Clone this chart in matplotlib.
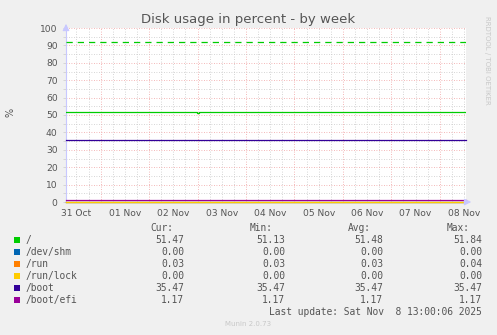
import matplotlib
matplotlib.use("Agg")
import matplotlib.pyplot as plt
import matplotlib.dates as mdates
import numpy as np
from datetime import datetime, timedelta

# data
t_start = datetime(2025, 10, 31, 6, 50)
t_end = datetime(2025, 11, 8, 13, 0)

root_times = ["2025-10-31 06:50", "2025-11-01 05:00", "2025-11-01 05:40", "2025-11-01 06:10",
              "2025-11-01 11:00", "2025-11-02 14:50", "2025-11-02 17:50", "2025-11-02 23:30",
              "2025-11-03 00:30", "2025-11-03 21:45", "2025-11-04 03:00", "2025-11-05 00:00",
              "2025-11-05 05:30", "2025-11-05 06:10", "2025-11-05 08:00", "2025-11-06 10:00",
              "2025-11-06 13:20", "2025-11-07 14:50", "2025-11-07 17:20", "2025-11-08 13:00"]
root_vals = [51.47, 51.84, 51.60, 51.84, 51.47, 51.84, 51.47, 51.13, 51.47, 51.84,
             51.47, 51.84, 51.70, 51.84, 51.47, 51.84, 51.47, 51.84, 51.47, 51.47]
root_warning = 92

names = ["/", "/dev/shm", "/run", "/run/lock", "/boot", "/boot/efi"]
colors = ["#00CC00", "#0066B3", "#FF8000", "#FFCC00", "#330099", "#990099"]
const_vals = {"/dev/shm": 0.00, "/run": 0.03, "/run/lock": 0.00, "/boot": 35.47, "/boot/efi": 1.17}
cur = ["51.47", "0.00", "0.03", "0.00", "35.47", "1.17"]
mins = ["51.13", "0.00", "0.03", "0.00", "35.47", "1.17"]
avgs = ["51.48", "0.00", "0.03", "0.00", "35.47", "1.17"]
maxs = ["51.84", "0.00", "0.04", "0.00", "35.47", "1.17"]

W, H = 497, 335
bg = "#F0F0F0"
txt = "#555555"

fig = plt.figure(figsize=(W / 100, H / 100), dpi=100, facecolor=bg)
ax = fig.add_axes([66 / W, 1 - 202 / H, 400 / W, 174 / H])
ax.set_facecolor("white")

# grid
ax.set_xlim(t_start, t_end)
ax.set_ylim(0, 100)
ax.xaxis.set_major_locator(mdates.DayLocator())
ax.xaxis.set_minor_locator(mdates.HourLocator(byhour=[6, 12, 18]))
ax.set_yticks(np.arange(0, 101, 10))
ax.set_yticks(np.arange(5, 100, 10), minor=True)
ax.grid(which="minor", color="#C8C8C8", linestyle=(0, (1, 2)), linewidth=0.6)
ax.grid(which="major", color="#F0A0A0", linestyle=(0, (1, 2)), linewidth=0.6)
ax.set_axisbelow(True)
ax.xaxis.set_major_formatter(plt.NullFormatter())

# day labels at noon
days = [datetime(2025, 10, 31) + timedelta(days=i) for i in range(9)]
for d in days:
    noon = d + timedelta(hours=12)
    ax.text(noon, -4, d.strftime("%d %b"), ha="center", va="top", fontsize=6.6, color=txt, clip_on=False)

ax.tick_params(axis="y", which="both", labelsize=6.6, labelcolor=txt, length=2,
               color="#D0D0D0", width=0.6, pad=4)
ax.tick_params(axis="x", which="both", length=0)
for s in ["top", "right"]:
    ax.spines[s].set_visible(False)
for s in ["left", "bottom"]:
    ax.spines[s].set_color("#C8C8FF")

# series
rt = [datetime.strptime(s, "%Y-%m-%d %H:%M") for s in root_times]
ax.step(rt, root_vals, where="post", color=colors[0], linewidth=0.9, zorder=3)
ax.plot([t_start, t_end], [root_warning, root_warning], color=colors[0],
        linewidth=0.9, linestyle=(0, (5, 4)), zorder=3)
for n, c in zip(names[1:], colors[1:]):
    v = const_vals[n]
    ax.plot([t_start, t_end], [v, v], color=c, linewidth=0.9, zorder=3, clip_on=False)

# axis arrows
ax.annotate("", xy=(0, 1.04), xytext=(0, 0.97), xycoords="axes fraction",
            arrowprops=dict(arrowstyle="-|>", color="#C8C8FF", lw=0.8), annotation_clip=False)
ax.annotate("", xy=(1.02, 0), xytext=(0.99, 0), xycoords="axes fraction",
            arrowprops=dict(arrowstyle="-|>", color="#C8C8FF", lw=0.8), annotation_clip=False)

def px(x, y):
    return x / W, 1 - y / H

fig.text(*px(248, 20), "Disk usage in percent - by week", ha="center", va="center",
         fontsize=9.5, color=txt)
fig.text(*px(11, 112), "%", ha="center", va="center", rotation=90, fontsize=7, color=txt)
fig.text(*px(487, 60), "RRDTOOL / TOBI OETIKER", ha="center", va="center", rotation=270,
         fontsize=5, color="#C8C8C8")

mono = "DejaVu Sans Mono"
fs = 6.9
fig.text(*px(173, 228), "Cur:", ha="right", va="center", family=mono, fontsize=fs, color=txt)
fig.text(*px(273, 228), "Min:", ha="right", va="center", family=mono, fontsize=fs, color=txt)
fig.text(*px(371, 228), "Avg:", ha="right", va="center", family=mono, fontsize=fs, color=txt)
fig.text(*px(470, 228), "Max:", ha="right", va="center", family=mono, fontsize=fs, color=txt)

for i, n in enumerate(names):
    y = 240 + 12 * i
    fig.patches.append(plt.Rectangle(px(14, y + 3), 6 / W, 6 / H, transform=fig.transFigure,
                                     facecolor=colors[i], edgecolor="none"))
    fig.text(*px(26, y), n, ha="left", va="center", family=mono, fontsize=fs, color=txt)
    fig.text(*px(184, y), cur[i], ha="right", va="center", family=mono, fontsize=fs, color=txt)
    fig.text(*px(285, y), mins[i], ha="right", va="center", family=mono, fontsize=fs, color=txt)
    fig.text(*px(383, y), avgs[i], ha="right", va="center", family=mono, fontsize=fs, color=txt)
    fig.text(*px(482, y), maxs[i], ha="right", va="center", family=mono, fontsize=fs, color=txt)

fig.text(*px(482, 312), "Last update: Sat Nov  8 13:00:06 2025", ha="right", va="center",
         family=mono, fontsize=fs, color=txt)
fig.text(*px(248, 324), "Munin 2.0.73", ha="center", va="center", fontsize=5, color="#C8C8C8")

fig.savefig("out.png", dpi=100, facecolor=bg)
